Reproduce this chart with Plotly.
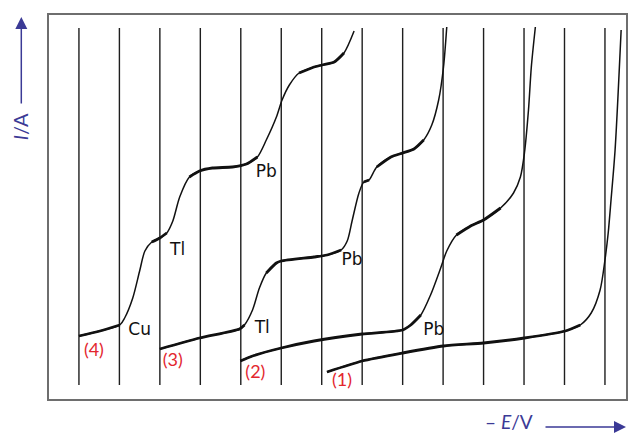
import plotly.graph_objects as go

# ---- data (E in chart-grid units, I in arbitrary current units) ----
GRID_E = list(range(14))
GRID_I = [1.4, 37.1]

E4 = [0.00, 0.52, 1.01, 1.13, 1.33, 1.50, 1.63, 1.80, 2.00, 2.17, 2.32, 2.49, 2.73, 2.98,
      3.30, 3.79, 4.14, 4.41, 4.63, 4.88, 5.02, 5.20, 5.44, 5.81, 6.01, 6.31, 6.55, 6.80]
I4 = [6.3, 6.8, 7.4, 8.1, 10.1, 12.8, 14.8, 15.7, 16.1, 16.6, 17.8, 20.2, 22.2, 22.8,
      23.1, 23.2, 23.5, 24.2, 25.9, 28.2, 29.9, 31.4, 32.6, 33.2, 33.4, 33.7, 34.6, 36.8]

E3 = [2.00, 2.98, 3.97, 4.09, 4.29, 4.46, 4.63, 4.88, 5.00, 5.81, 6.13, 6.48, 6.63, 6.75,
      6.92, 7.04, 7.17, 7.36, 7.71, 8.00, 8.28, 8.52, 8.72, 8.89, 9.01, 9.09]
I3 = [5.0, 6.1, 7.0, 7.4, 8.9, 11.1, 12.6, 13.6, 13.8, 14.2, 14.4, 14.9, 15.8, 17.8,
      20.6, 21.7, 21.9, 23.2, 24.2, 24.6, 25.0, 25.9, 27.4, 29.9, 33.2, 37.2]

E2 = [3.99, 4.29, 5.00, 5.81, 7.00, 8.00, 8.20, 8.45, 8.69, 8.94, 9.09, 9.33, 9.68, 10.00,
      10.42, 10.74, 10.91, 11.01, 11.11, 11.18, 11.28]
I2 = [3.8, 4.3, 5.1, 5.8, 6.5, 6.9, 7.4, 8.4, 10.4, 13.1, 14.8, 16.4, 17.3, 17.9,
      19.1, 20.6, 22.2, 24.6, 28.9, 33.2, 37.2]

E1 = [6.13, 7.00, 8.00, 9.01, 10.00, 11.01, 12.02, 12.39, 12.66, 12.88, 13.00, 13.08, 13.15, 13.25, 13.40]
I1 = [2.7, 3.8, 4.6, 5.3, 5.6, 6.1, 6.8, 7.4, 8.6, 10.9, 13.9, 16.6, 19.9, 24.9, 36.9]

CURVE_LABELS = ["(1)", "(2)", "(3)", "(4)"]
CURVE_LABEL_E = [6.50, 4.36, 2.32, 0.37]
CURVE_LABEL_I = [1.8, 2.6, 3.8, 4.8]

ION_LABELS = ["Cu", "Tl", "Tl", "Pb", "Pb", "Pb"]
ION_LABEL_E = [1.50, 2.44, 4.53, 4.63, 6.75, 8.77]
ION_LABEL_I = [6.8, 14.8, 7.0, 22.6, 13.8, 6.8]

AXIS_BLUE = "#3b3a96"
LABEL_RED = "#e3262e"

fig = go.Figure()

# chart-paper vertical lines
gx, gy = [], []
for e in GRID_E:
    gx += [e, e, None]
    gy += [GRID_I[0], GRID_I[1], None]
fig.add_trace(go.Scatter(x=gx, y=gy, mode="lines",
                         line=dict(color="#1e1e1e", width=1.4),
                         hoverinfo="skip", showlegend=False))


def thick_runs(E, I, limit=1.0):
    xs, ys = [], []
    prev = False
    for i in range(len(E) - 1):
        slope = abs((I[i + 1] - I[i]) * 10.0 / ((E[i + 1] - E[i]) * 40.6))
        if slope < limit:
            if not prev:
                if xs:
                    xs.append(None); ys.append(None)
                xs.append(E[i]); ys.append(I[i])
            xs.append(E[i + 1]); ys.append(I[i + 1])
            prev = True
        else:
            prev = False
    return xs, ys


for E, I in [(E4, I4), (E3, I3), (E2, I2), (E1, I1)]:
    fig.add_trace(go.Scatter(x=E, y=I, mode="lines",
                             line=dict(color="#111111", width=1.5, shape="spline", smoothing=0.8),
                             hoverinfo="skip", showlegend=False))
    tx, ty = thick_runs(E, I)
    fig.add_trace(go.Scatter(x=tx, y=ty, mode="lines", connectgaps=False,
                             line=dict(color="#111111", width=2.8, shape="spline", smoothing=0.6),
                             hoverinfo="skip", showlegend=False))

fig.add_trace(go.Scatter(x=CURVE_LABEL_E, y=CURVE_LABEL_I, mode="text", text=CURVE_LABELS,
                         textfont=dict(family="Lato, Open Sans, sans-serif", size=18, color=LABEL_RED),
                         hoverinfo="skip", showlegend=False))
fig.add_trace(go.Scatter(x=ION_LABEL_E, y=ION_LABEL_I, mode="text", text=ION_LABELS,
                         textfont=dict(family="DejaVu Sans, sans-serif", size=17, color="#111111"),
                         hoverinfo="skip", showlegend=False))

# axis titles with arrows
fig.add_annotation(xref="paper", yref="paper", x=-0.05, y=0.708, text="<i>I</i>/A",
                   xanchor="center", yanchor="middle",
                   textangle=-90, showarrow=False,
                   font=dict(family="Lato, Open Sans, sans-serif", size=20, color=AXIS_BLUE))
fig.add_annotation(xref="paper", yref="paper", x=-0.048, y=0.995, ax=0, ay=88,
                   text="", showarrow=True, arrowhead=2, arrowsize=1.6, arrowwidth=1.5,
                   arrowcolor=AXIS_BLUE)
fig.add_annotation(xref="paper", yref="paper", x=0.798, y=-0.091, text="– <i>E</i>/V",
                   xanchor="center", yanchor="bottom", showarrow=False, borderpad=0,
                   font=dict(family="Lato, Open Sans, sans-serif", size=19, color=AXIS_BLUE))
fig.add_annotation(xref="paper", yref="paper", x=1.0, y=-0.073, ax=-82, ay=0,
                   text="", showarrow=True, arrowhead=2, arrowsize=1.6, arrowwidth=1.5,
                   arrowcolor=AXIS_BLUE)

fig.update_xaxes(range=[-0.74, 13.52], showgrid=False, zeroline=False, showticklabels=False,
                 ticks="", showline=True, mirror=True, linecolor="#6e6e6e", linewidth=1.5)
fig.update_yaxes(range=[0, 38.4], showgrid=False, zeroline=False, showticklabels=False,
                 ticks="", showline=True, mirror=True, linecolor="#6e6e6e", linewidth=1.5)

fig.update_layout(width=630, height=436, margin=dict(l=49, r=2, t=15, b=37),
                  paper_bgcolor="white", plot_bgcolor="white")

fig.write_html("out.html", config={"displayModeBar": False},
               post_script="document.body.style.margin='0';document.body.style.overflow='hidden';")
